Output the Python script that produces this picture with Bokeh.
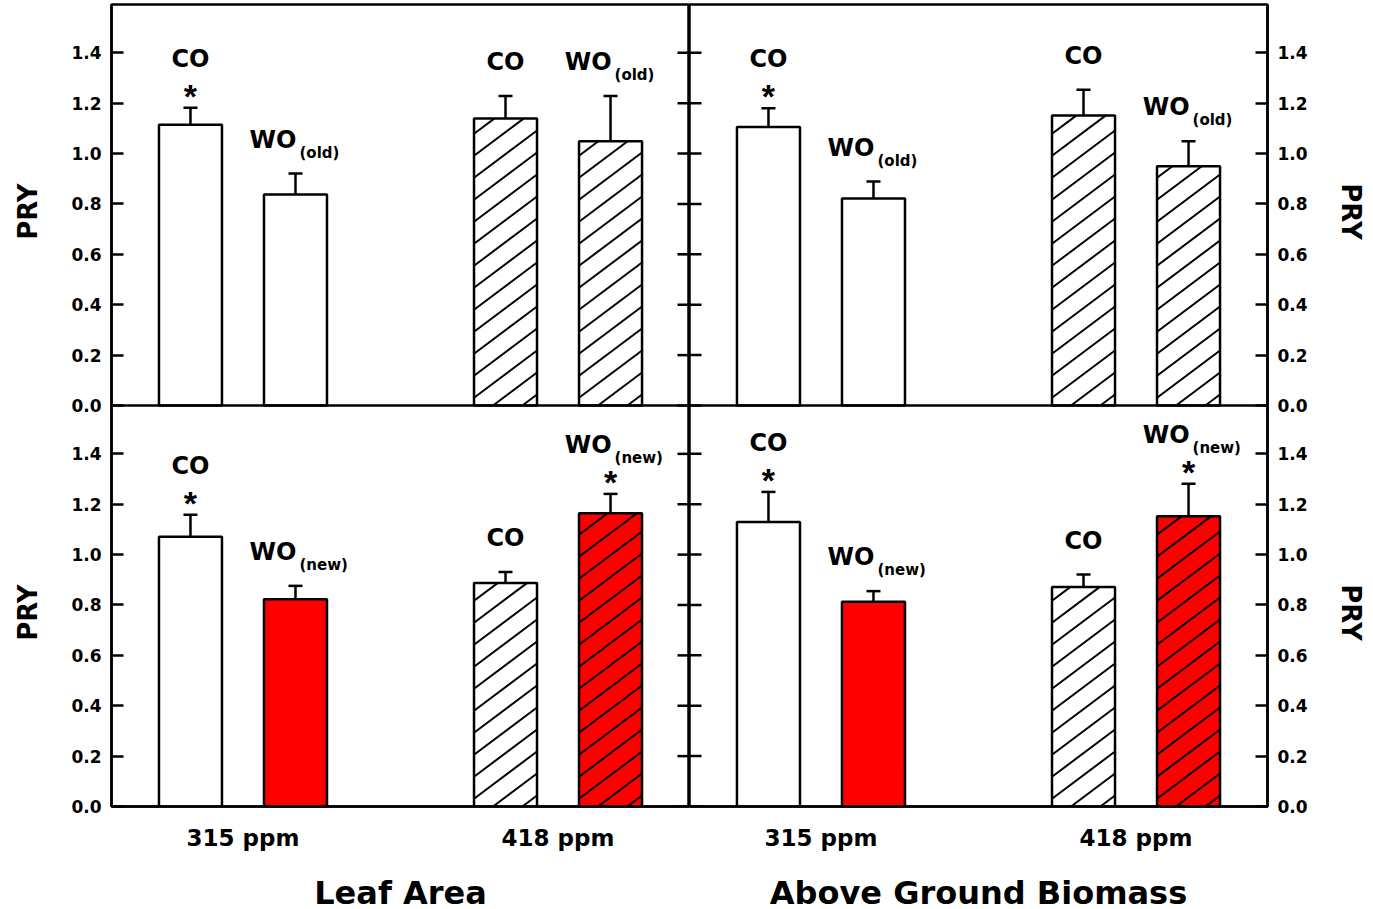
import numpy as np
from bokeh.plotting import figure
from bokeh.layouts import gridplot
from bokeh.models import (ColumnDataSource, Whisker, TeeHead, FixedTicker, Range1d,
                          PrintfTickFormatter, Span)
from bokeh.core.properties import value
from bokeh.embed import file_html
from bokeh.resources import INLINE

FONT = "DejaVu Sans"

# ---------------- data ----------------
conditions = ["315 ppm", "418 ppm"]
panel_titles = ["Leaf Area", "Above Ground Biomass"]
bar_names = ["CO", "WO", "CO", "WO"]
y_ticks = [0.0, 0.2, 0.4, 0.6, 0.8, 1.0, 1.2, 1.4]
y_title = "PRY"

# upper row: CO vs WO(old)
old_sub = ["", "(old)", "", "(old)"]
old_fill = ["white", "white", "white", "white"]
old_hatched = [False, False, True, True]
la_old_mean = [1.115, 0.838, 1.139, 1.049]
la_old_err = [0.067, 0.083, 0.090, 0.180]
la_old_sig = [True, False, False, False]
agb_old_mean = [1.106, 0.822, 1.151, 0.950]
agb_old_err = [0.074, 0.067, 0.103, 0.099]
agb_old_sig = [True, False, False, False]

# lower row: CO vs WO(new)
new_sub = ["", "(new)", "", "(new)"]
new_fill = ["white", "red", "white", "red"]
new_hatched = [False, False, True, True]
la_new_mean = [1.071, 0.823, 0.887, 1.164]
la_new_err = [0.087, 0.053, 0.044, 0.077]
la_new_sig = [True, False, False, True]
agb_new_mean = [1.129, 0.813, 0.871, 1.152]
agb_new_err = [0.120, 0.042, 0.050, 0.129]
agb_new_sig = [True, False, False, True]

# ---------------- layout constants ----------------
slots = [1, 2, 4, 5]          # slot 3 is the gap between the two CO2 levels
XR = (0.248, 5.752)
BAR_W = 0.6
FRAME_W = 578
FRAME_H = 802                 # two stacked panels
BORDER_TOP = 4
BORDER_BOTTOM = 103
PANEL_H = 1.592               # data height of one panel
HATCH_SLOPE = 0.75            # screen rise per screen run
HATCH_GAP = 22.0              # vertical px between hatch lines
PRY_Y = 0.77                  # where the PRY title sits in each panel
TITLE_W = 56                  # width of the side strips holding "PRY"
PX_X = FRAME_W / (XR[1] - XR[0])
PX_Y = FRAME_H / (2 * PANEL_H)


def hatch_segments(xc, top):
    """Diagonal hatch lines clipped to a bar, returned in data units."""
    xl = xc - BAR_W / 2
    W = BAR_W * PX_X
    H = top * PX_Y
    x0s, y0s, x1s, y1s = [], [], [], []
    c = -HATCH_SLOPE * W + HATCH_GAP / 2
    while c < H:
        u0 = max(0.0, -c / HATCH_SLOPE)
        u1 = min(W, (H - c) / HATCH_SLOPE)
        if u1 > u0:
            x0s.append(xl + u0 / PX_X)
            y0s.append((c + HATCH_SLOPE * u0) / PX_Y)
            x1s.append(xl + u1 / PX_X)
            y1s.append((c + HATCH_SLOPE * u1) / PX_Y)
        c += HATCH_GAP
    return x0s, y0s, x1s, y1s


def style_text_axis(ax):
    ax.major_label_text_font = FONT
    ax.major_label_text_font_style = "bold"
    ax.major_label_text_color = "black"
    ax.axis_label_text_font = FONT
    ax.axis_label_text_font_style = "bold"
    ax.axis_label_text_color = "black"
    ax.axis_line_color = "black"
    ax.major_tick_line_color = "black"


def draw_panel(p, rng, mean, err, sig, subs, fills, hatched, left_col):
    upper = [m + e for m, e in zip(mean, err)]
    has_sub = [s != "" for s in subs]
    src = ColumnDataSource(dict(
        x=slots, top=mean, upper=upper, fill=fills,
        label=bar_names, sub=subs,
        star=["*" if s else "" for s in sig],
        lab_off=[-49 if s else -34 for s in sig],
        sub_off=[(-49 if s else -34) + 13 for s in sig],
        lab_xoff=[1 if h else 0 for h in has_sub],
        lab_align=["right" if h else "center" for h in has_sub],
    ))

    p.vbar(x="x", top="top", width=BAR_W, source=src, fill_color="fill",
           line_color=None, y_range_name=rng)
    hx0, hy0, hx1, hy1 = [], [], [], []
    for xc, t, h in zip(slots, mean, hatched):
        if h:
            a, b, c, d = hatch_segments(xc, t)
            hx0 += a; hy0 += b; hx1 += c; hy1 += d
    if hx0:
        p.segment(x0=hx0, y0=hy0, x1=hx1, y1=hy1, line_color="black",
                  line_width=2, y_range_name=rng)
    p.vbar(x="x", top="top", width=BAR_W, source=src, fill_color=None,
           line_color="black", line_width=2.5, y_range_name=rng)

    p.add_layout(Whisker(source=src, base="x", upper="upper", lower="top",
                         y_range_name=rng, line_color="black", line_width=2.5,
                         upper_head=TeeHead(size=14, line_width=2.5, line_color="black"),
                         lower_head=None))

    # inner tick marks on the shared (unlabelled) vertical side
    edge = XR[1] if left_col else XR[0]
    ang = np.pi if left_col else 0.0
    p.ray(x=[edge] * len(y_ticks), y=y_ticks, length=12, length_units="screen",
          angle=ang, line_color="black", line_width=2.5, y_range_name=rng)

    p.text(x="x", y="upper", text="label", source=src, x_offset="lab_xoff",
           y_offset="lab_off", text_align="lab_align", text_baseline="middle",
           text_font=value(FONT), text_font_style="bold", text_font_size="24px",
           text_color="black", y_range_name=rng)
    p.text(x="x", y="upper", text="sub", source=src, x_offset=4,
           y_offset="sub_off", text_align="left", text_baseline="middle",
           text_font=value(FONT), text_font_style="bold", text_font_size="15px",
           text_color="black", y_range_name=rng)
    p.text(x="x", y="upper", text="star", source=src, y_offset=-12,
           text_align="center", text_baseline="middle",
           text_font=value("Liberation Sans"), text_font_style="bold",
           text_font_size="34px", text_color="black", y_range_name=rng)


def make_column(upper_data, lower_data, left_col, title):
    p = figure(frame_width=FRAME_W, frame_height=FRAME_H,
               x_range=Range1d(*XR), y_range=Range1d(0, 2 * PANEL_H),
               output_backend="svg", toolbar_location=None, tools="",
               y_axis_location="left" if left_col else "right",
               x_axis_location="below",
               min_border_left=111 - TITLE_W if left_col else 0,
               min_border_right=0 if left_col else 106 - TITLE_W,
               min_border_top=BORDER_TOP, min_border_bottom=BORDER_BOTTOM)
    # upper panel uses its own range whose 0 is the middle of the frame
    p.extra_y_ranges = {"upper": Range1d(-PANEL_H, PANEL_H)}
    p.xgrid.visible = False
    p.ygrid.visible = False
    p.outline_line_color = "black"
    p.outline_line_width = 2.5
    p.background_fill_color = "white"
    p.border_fill_color = "white"

    ya = p.yaxis[0]
    style_text_axis(ya)
    upper_ticks = [v + PANEL_H for v in y_ticks]
    ya.ticker = FixedTicker(ticks=y_ticks + upper_ticks)
    ya.formatter = PrintfTickFormatter(format="%.1f")
    ya.major_label_overrides = {t: "%.1f" % v for t, v in zip(upper_ticks, y_ticks)}
    ya.major_tick_in = 12
    ya.major_tick_out = 0
    ya.minor_tick_line_color = None
    ya.major_tick_line_width = 2.5
    ya.axis_line_width = 2.5
    ya.major_label_text_font_size = "17px"
    ya.major_label_standoff = 10

    xa = p.xaxis[0]
    style_text_axis(xa)
    xa.ticker = FixedTicker(ticks=[1.5, 4.5])
    xa.major_label_overrides = {1.5: conditions[0], 4.5: conditions[1]}
    xa.major_tick_in = 0
    xa.major_tick_out = 0
    xa.minor_tick_line_color = None
    xa.axis_line_width = 2.5
    xa.major_label_text_font_size = "23px"
    xa.major_label_standoff = 18
    xa.axis_label = title
    xa.axis_label_text_font_size = "32px"
    xa.axis_label_standoff = 20

    # divider between the two panels (the upper panel's zero line)
    p.add_layout(Span(location=0, dimension="width", y_range_name="upper",
                      line_color="black", line_width=2.5))

    draw_panel(p, "upper", *upper_data, left_col)
    draw_panel(p, "default", *lower_data, left_col)
    return p


def make_title_strip(left_side):
    """Narrow blank strip carrying the two rotated 'PRY' titles."""
    s = figure(frame_width=TITLE_W, frame_height=FRAME_H,
               x_range=Range1d(0, TITLE_W), y_range=Range1d(0, 2 * PANEL_H),
               output_backend="svg", toolbar_location=None, tools="",
               x_axis_location=None, y_axis_location=None,
               min_border_left=0, min_border_right=0,
               min_border_top=BORDER_TOP, min_border_bottom=BORDER_BOTTOM)
    s.extra_y_ranges = {"upper": Range1d(-PANEL_H, PANEL_H)}
    s.xgrid.visible = False
    s.ygrid.visible = False
    s.outline_line_color = None
    s.background_fill_color = "white"
    s.border_fill_color = "white"
    cx = 27.5 if left_side else 33
    for rng in ("upper", "default"):
        s.text(x=[cx], y=[PRY_Y], text=[y_title], angle=np.pi / 2 if left_side else -np.pi / 2,
               text_align="center", text_baseline="middle",
               text_font=value(FONT), text_font_style="bold", text_font_size="26px",
               text_color="black", y_range_name=rng)
    return s


left = make_column((la_old_mean, la_old_err, la_old_sig, old_sub, old_fill, old_hatched),
                   (la_new_mean, la_new_err, la_new_sig, new_sub, new_fill, new_hatched),
                   True, panel_titles[0])
right = make_column((agb_old_mean, agb_old_err, agb_old_sig, old_sub, old_fill, old_hatched),
                    (agb_new_mean, agb_new_err, agb_new_sig, new_sub, new_fill, new_hatched),
                    False, panel_titles[1])
strip_l = make_title_strip(True)
strip_r = make_title_strip(False)

grid = gridplot([[strip_l, left, right, strip_r]], toolbar_location=None)

open("out.html", "w").write(file_html(grid, INLINE))
